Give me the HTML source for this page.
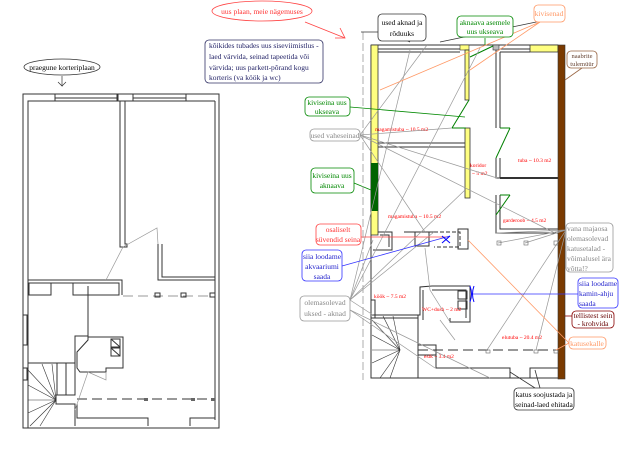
<!DOCTYPE html>
<html><head><meta charset="utf-8"><style>
html,body{margin:0;padding:0;background:#fff;width:620px;height:476px;overflow:hidden}
svg{display:block}
text{font-family:"Liberation Serif",serif}
.t{font-size:7.5px}
.r{font-size:5.5px;fill:#f00}
</style></head><body>
<svg width="620" height="476" viewBox="0 0 620 476" xmlns="http://www.w3.org/2000/svg">
<!-- LEFT PLAN -->
<g fill="none" stroke="#333" stroke-width="1">
<rect x="23" y="94" width="196" height="334"/>
<polyline points="28,428 28,101 55,101"/>
<line x1="55" y1="94" x2="55" y2="101"/><line x1="118" y1="94" x2="118" y2="101"/>
<line x1="55" y1="98" x2="118" y2="98"/><line x1="55" y1="101" x2="118" y2="101"/>
<rect x="117" y="94" width="16" height="7"/>
<line x1="133" y1="98" x2="186" y2="98"/><line x1="133" y1="101" x2="186" y2="101"/>
<line x1="186" y1="94" x2="186" y2="101"/><line x1="186" y1="101" x2="215" y2="101"/>
<polyline points="120,101 120,247 127,247 127,244 125,244 125,101"/>
<line x1="215" y1="101" x2="215" y2="420"/>
<polyline points="28,280 122,280 122,295"/><line x1="28" y1="283" x2="119" y2="283"/>
<polyline points="158,244 158,280 215,280"/><polyline points="162,244 162,277 215,277"/>
<rect x="29" y="283" width="22" height="12"/><rect x="73" y="283" width="46" height="12"/>
<line x1="123" y1="296" x2="213" y2="296" stroke-dasharray="10,5" stroke="#999"/>
<rect x="155" y="293" width="5" height="4"/><rect x="181" y="293" width="5" height="4"/><rect x="210" y="293" width="5" height="4"/>
<rect x="23" y="315" width="4" height="30"/><rect x="23" y="368" width="4" height="12"/>
<polyline points="28,363 75,363 75,395 56,395 56,404 75,404 75,426"/>
<line x1="57" y1="363" x2="57" y2="395"/><line x1="66" y1="363" x2="66" y2="395"/>
<polyline points="75,370 75,336 88,336 88,286 88,286"/>
<polygon points="88,337 123,337 123,368 106,368 106,372 80,372 77,368 77,352 88,340"/>
<rect x="111" y="339" width="9" height="8"/><rect x="111" y="348" width="9" height="8"/>
<line x1="111" y1="339" x2="120" y2="347"/><line x1="111" y1="348" x2="120" y2="356"/>
<line x1="77" y1="399" x2="213" y2="399" stroke-dasharray="10,5"/>
<polyline points="77,404 77,418 148,418 148,426"/><polyline points="190,426 190,418 215,418"/>
</g>
<g stroke="#333" stroke-width="0.6" fill="none">
<line x1="56" y1="400" x2="28" y2="370"/><line x1="56" y1="400" x2="42" y2="364"/><line x1="56" y1="400" x2="28" y2="385"/>
<line x1="56" y1="400" x2="28" y2="400"/><line x1="56" y1="400" x2="28" y2="413"/><line x1="56" y1="400" x2="30" y2="426"/>
<line x1="56" y1="400" x2="40" y2="426"/><line x1="56" y1="400" x2="52" y2="364"/>
</g>
<g stroke="#999" stroke-width="0.7" fill="none">
<polyline points="106,280 123,247 157,228 158,244"/>
<polyline points="75,410 88,372 106,380 106,372"/>
</g>
<rect x="144" y="398" width="4" height="3" fill="#666"/><rect x="191" y="398" width="4" height="3" fill="#666"/><rect x="211" y="398" width="4" height="3" fill="#666"/>
<ellipse cx="62" cy="67" rx="38" ry="8" fill="#fff" stroke="#333" stroke-width="0.8"/>
<text x="62" y="70" text-anchor="middle" class="t">praegune korteriplaan</text>
<polyline points="62,76 62,86 58,82 62,86 66,82" fill="none" stroke="#333" stroke-width="0.7"/>

<!-- RIGHT PLAN -->
<g fill="none" stroke="#333" stroke-width="1">
<polyline points="371,45 371,378 558,378"/>
<line x1="371" y1="45" x2="558" y2="45"/><line x1="377" y1="52" x2="460" y2="52"/>
<line x1="377" y1="49" x2="460" y2="49"/>
<polyline points="496,45 496,128"/><polyline points="500,52 500,128"/>
<line x1="500" y1="52" x2="530" y2="52"/><line x1="500" y1="49" x2="530" y2="49"/>
<polyline points="377,143 466,143"/><polyline points="377,147 466,147"/>
<polyline points="496,158 496,178 500,178 500,158"/><line x1="500" y1="178" x2="558" y2="178" stroke-width="2"/>
<polyline points="496,195 496,233 558,233"/><polyline points="500,195 500,229 558,229"/>
<polyline points="377,232 392,232 392,250 373,250"/><polyline points="380,235 389,235 389,247"/>
<polyline points="404,232 434,232"/><rect x="415" y="232" width="14" height="14"/>
<polyline points="434,232 460,232 460,247 434,247" stroke-dasharray="4,2"/>
<rect x="458" y="229" width="10" height="20"/>
<polyline points="372,315 418,315 418,378"/><line x1="372" y1="318" x2="418" y2="318"/>
<polyline points="418,315 420,315 420,287 432,286 470,286 470,322 450,322 450,318"/>
<polyline points="432,290 466,290 466,318"/>
<polyline points="423,320 423,290"/>
<rect x="458" y="291" width="9" height="8"/><rect x="458" y="301" width="9" height="8"/>
<rect x="418" y="345" width="18" height="10"/>
<line x1="418" y1="350" x2="558" y2="350" stroke-dasharray="10,5"/>
<polyline points="436,355 436,368 510,368 510,378"/><polyline points="530,378 530,368 558,368"/>
<rect x="371" y="300" width="4" height="18"/>
</g>
<g stroke="#333" stroke-width="0.6" fill="none">
<line x1="400" y1="350" x2="372" y2="320"/><line x1="400" y1="350" x2="383" y2="316"/><line x1="400" y1="350" x2="393" y2="316"/>
<line x1="400" y1="350" x2="372" y2="335"/><line x1="400" y1="350" x2="372" y2="350"/><line x1="400" y1="350" x2="372" y2="363"/>
<line x1="400" y1="350" x2="380" y2="378"/><line x1="400" y1="350" x2="390" y2="378"/>
</g>
<!-- colored walls -->
<rect x="371" y="45" width="7" height="190" fill="#ffff80" stroke="#333" stroke-width="0.8"/>
<rect x="371" y="163" width="7" height="48" fill="#006400"/>
<rect x="460" y="45" width="9" height="5" fill="#ffff80" stroke="#333" stroke-width="0.6"/>
<rect x="465" y="50" width="4" height="50" fill="#ffff80" stroke="#333" stroke-width="0.8"/>
<rect x="465" y="128" width="5" height="70" fill="#ffff80" stroke="#333" stroke-width="0.8"/>
<rect x="493" y="45" width="6" height="5" fill="#bbb" stroke="#333" stroke-width="0.6"/>
<rect x="530" y="45" width="28" height="7" fill="#ffff80" stroke="#333" stroke-width="0.8"/>
<rect x="558" y="45" width="7" height="334" fill="#7a3a00" stroke="#333" stroke-width="0.6"/>
<g stroke="#008000" stroke-width="1" fill="none">
<line x1="469" y1="100" x2="452" y2="128"/><line x1="452" y1="128" x2="466" y2="128"/>
<line x1="500" y1="128" x2="510" y2="128"/><line x1="510" y1="128" x2="496" y2="158"/>
<line x1="500" y1="195" x2="510" y2="195"/><line x1="510" y1="195" x2="496" y2="215"/>
<line x1="470" y1="57" x2="493" y2="46"/>
</g>
<!-- room labels -->
<text x="375" y="131" class="r">magamistuba ~ 10.5 m2</text>
<text x="470" y="167" class="r">koridor</text><text x="472" y="175" class="r">~ 5 m2</text>
<text x="518" y="162" class="r">tuba ~ 10.3 m2</text>
<text x="503" y="222" class="r">garderoob ~ 4.5 m2</text>
<text x="388" y="218" class="r">magamistuba ~ 10.5 m2</text>
<text x="374" y="298" class="r">köök ~ 7.5 m2</text>
<text x="422" y="311" class="r">WC+dush ~ 2 m2</text>
<text x="502" y="339" class="r">elutuba ~ 20.4 m2</text>
<text x="424" y="358" class="r">esik ~ 3.4 m2</text>
<!-- gray connector lines -->
<g stroke="#999" stroke-width="0.7" fill="none">
<line x1="360" y1="135" x2="452" y2="128"/><line x1="360" y1="135" x2="497" y2="178"/>
<line x1="360" y1="135" x2="427" y2="45"/><line x1="360" y1="135" x2="555" y2="233"/>
<line x1="360" y1="135" x2="425" y2="232"/>
<line x1="350" y1="300" x2="410" y2="50"/><line x1="350" y1="300" x2="480" y2="48"/>
<line x1="350" y1="300" x2="465" y2="190"/><line x1="350" y1="300" x2="434" y2="232"/>
<line x1="350" y1="300" x2="373" y2="240"/><line x1="350" y1="300" x2="373" y2="315"/>
<line x1="350" y1="310" x2="435" y2="368"/><line x1="350" y1="310" x2="490" y2="378"/>
<line x1="566" y1="230" x2="498" y2="243"/><line x1="566" y1="230" x2="525" y2="243"/>
<line x1="566" y1="230" x2="487" y2="350"/><line x1="566" y1="230" x2="536" y2="350"/>
<line x1="566" y1="230" x2="496" y2="233"/>
<polyline points="425,248 430,290 450,322"/>
<line x1="440" y1="320" x2="455" y2="340"/>
</g>
<g fill="none" stroke="#666" stroke-width="0.6">
<rect x="497" y="241" width="4" height="4"/><rect x="524" y="241" width="4" height="4"/><rect x="554" y="241" width="4" height="4"/>
<rect x="486" y="350" width="4" height="3"/><rect x="534" y="350" width="4" height="3"/><rect x="554" y="350" width="4" height="3"/>
</g>
<!-- colored leader lines -->
<g fill="none" stroke-width="0.8">
<line x1="440" y1="42" x2="565" y2="16" stroke="#333"/><line x1="410" y1="42" x2="395" y2="35" stroke="#333"/>
<line x1="485" y1="38" x2="485" y2="46" stroke="#080"/>
<line x1="350" y1="107" x2="465" y2="117" stroke="#080"/>
<line x1="354" y1="183" x2="371" y2="190" stroke="#080"/>
<line x1="380" y1="90" x2="540" y2="22" stroke="#f96"/><line x1="470" y1="70" x2="540" y2="22" stroke="#f96"/>
<line x1="468" y1="240" x2="569" y2="343" stroke="#f96"/><line x1="556" y1="350" x2="569" y2="343" stroke="#f96"/>
<line x1="565" y1="80" x2="582" y2="68" stroke="#964"/>
<line x1="361" y1="237" x2="448" y2="237" stroke="#f44"/>
<line x1="342" y1="266" x2="450" y2="236" stroke="#33f"/>
<line x1="472" y1="294" x2="578" y2="294" stroke="#33f"/>
<line x1="565" y1="316" x2="572" y2="316" stroke="#800"/>
<line x1="305" y1="22" x2="345" y2="38" stroke="#f44"/><polyline points="340,28 345,38 335,38" stroke="#f44"/>
<line x1="535" y1="388" x2="510" y2="372" stroke="#333"/><line x1="540" y1="388" x2="535" y2="370" stroke="#333"/>
<line x1="355" y1="50" x2="355" y2="50"/>
</g>
<g stroke="#00f" stroke-width="1" fill="none">
<line x1="442" y1="236" x2="450" y2="243"/><line x1="450" y1="236" x2="442" y2="243"/>
<path d="M470,286 q3,8 0,16 M474,286 q-3,8 0,16"/>
</g>
<!-- callouts -->
<ellipse cx="262" cy="11" rx="50" ry="10" fill="#fff" stroke="#f44" stroke-width="0.8"/>
<text x="262" y="14" text-anchor="middle" class="t" fill="#f33">uus plaan, meie nägemuses</text>
<rect x="205" y="40" width="118" height="43" rx="4" fill="#fff" stroke="#336" stroke-width="0.8"/>
<text class="t" fill="#226"><tspan x="209" y="48">kõikides tubades uus siseviimistlus -</tspan><tspan x="209" y="59">laed värvida, seinad tapeetida või</tspan><tspan x="209" y="70">värvida; uus parkett-põrand kogu</tspan><tspan x="209" y="80">korteris (va köök ja wc)</tspan></text>
<rect x="378" y="14" width="48" height="27" rx="4" fill="#fff" stroke="#333" stroke-width="0.8"/>
<text class="t" text-anchor="middle"><tspan x="402" y="25">used aknad ja</tspan><tspan x="402" y="36">rõduuks</tspan></text>
<rect x="457" y="16" width="56" height="21" rx="4" fill="#fff" stroke="#080" stroke-width="0.8"/>
<text class="t" text-anchor="middle" fill="#080"><tspan x="485" y="25">aknaava asemele</tspan><tspan x="485" y="34">uus ukseava</tspan></text>
<rect x="534" y="5" width="31" height="17" rx="4" fill="#fff" stroke="#f96" stroke-width="0.8"/>
<text x="549" y="16" text-anchor="middle" class="t" fill="#f96">kivisenad</text>
<rect x="567" y="51" width="30" height="17" rx="4" fill="#fff" stroke="#964" stroke-width="0.8"/>
<text class="t" text-anchor="middle" fill="#643" style="font-size:6.5px"><tspan x="582" y="58">naabrite</tspan><tspan x="582" y="66">tulemüür</tspan></text>
<rect x="305" y="97" width="45" height="19" rx="4" fill="#fff" stroke="#080" stroke-width="0.8"/>
<text class="t" text-anchor="middle" fill="#080"><tspan x="327" y="105">kiviseina uus</tspan><tspan x="327" y="114">ukseava</tspan></text>
<rect x="310" y="129" width="50" height="12" rx="4" fill="#fff" stroke="#999" stroke-width="0.8"/>
<text x="335" y="138" text-anchor="middle" class="t" fill="#888">used vaheseinad</text>
<rect x="311" y="168" width="43" height="25" rx="4" fill="#fff" stroke="#080" stroke-width="0.8"/>
<text class="t" text-anchor="middle" fill="#080"><tspan x="332" y="178">kiviseina uus</tspan><tspan x="332" y="188">aknaava</tspan></text>
<rect x="316" y="224" width="45" height="21" rx="4" fill="#fff" stroke="#f44" stroke-width="0.8"/>
<text class="t" text-anchor="middle" fill="#f33"><tspan x="338" y="232">osaliselt</tspan><tspan x="338" y="242">süvendid seina</tspan></text>
<rect x="302" y="250" width="40" height="31" rx="4" fill="#fff" stroke="#33f" stroke-width="0.8"/>
<text class="t" text-anchor="middle" fill="#22c"><tspan x="322" y="259">siia loodame</tspan><tspan x="322" y="269">akvaariumi</tspan><tspan x="322" y="279">saada</tspan></text>
<rect x="300" y="296" width="50" height="25" rx="4" fill="#fff" stroke="#999" stroke-width="0.8"/>
<text class="t" text-anchor="middle" fill="#888"><tspan x="325" y="305">olemasolevad</tspan><tspan x="325" y="316">uksed - aknad</tspan></text>
<rect x="566" y="223" width="47" height="49" rx="4" fill="#fff" stroke="#999" stroke-width="0.8"/>
<text class="t" fill="#888"><tspan x="567" y="231">vana majaosa</tspan><tspan x="567" y="241">olemasolevad</tspan><tspan x="567" y="251">katusetalad -</tspan><tspan x="567" y="261">võimalusel ära</tspan><tspan x="567" y="271">võtta!?</tspan></text>
<rect x="578" y="278" width="40" height="30" rx="4" fill="#fff" stroke="#33f" stroke-width="0.8"/>
<text class="t" fill="#22c"><tspan x="579" y="286">siia loodame</tspan><tspan x="579" y="296">kamin-ahju</tspan><tspan x="579" y="306">saada</tspan></text>
<rect x="572" y="311" width="42" height="17" rx="4" fill="#fff" stroke="#800" stroke-width="0.8"/>
<text class="t" text-anchor="middle" fill="#600"><tspan x="593" y="318">tellistest sein</tspan><tspan x="593" y="326">- krohvida</tspan></text>
<rect x="569" y="337" width="37" height="12" rx="4" fill="#fff" stroke="#f96" stroke-width="0.8"/>
<text x="587" y="346" text-anchor="middle" class="t" fill="#f96">katusekalle</text>
<rect x="514" y="388" width="60" height="22" rx="4" fill="#fff" stroke="#333" stroke-width="0.8"/>
<text class="t" text-anchor="middle"><tspan x="544" y="397">katus soojustada ja</tspan><tspan x="544" y="407">seinad-laed ehitada</tspan></text>
<!-- dashed line near top-left of right plan -->
<line x1="363" y1="32" x2="363" y2="380" stroke="#999" stroke-width="0.8" stroke-dasharray="8,3"/>
<polyline points="361,32 378,32" fill="none" stroke="#333" stroke-width="0.8"/>
</svg>
</body></html>
